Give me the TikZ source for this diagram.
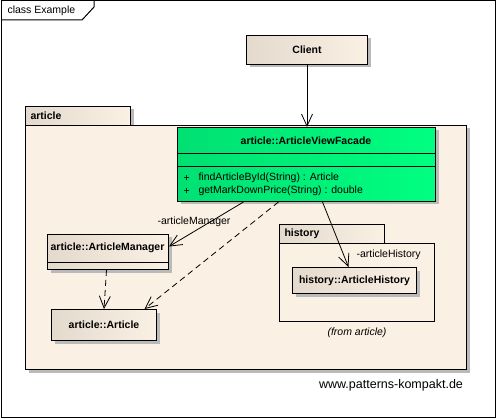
\documentclass[tikz,border=0pt]{standalone}
\usepackage{fontspec}
\setmainfont{Liberation Sans}
\usetikzlibrary{arrows.meta,shadows}
\definecolor{cream}{HTML}{FAF0E3}
\definecolor{taupe}{HTML}{E3DACD}
\definecolor{facadelight}{HTML}{00FF80}
\definecolor{facadedark}{HTML}{00E072}
\tikzset{
  boxshadow/.style={drop shadow={shadow xshift=3pt,shadow yshift=-3pt,fill=black!27,opacity=1}},
  cls/.style={draw,line width=1pt,left color=taupe,right color=cream,boxshadow,
    anchor=north west,inner sep=0pt,font=\fontsize{10.5}{12}\selectfont\bfseries},
  pkgtab/.style={draw,line width=1pt,left color=taupe,right color=cream,
    anchor=north west,minimum width=105pt,minimum height=19pt,inner sep=0pt},
  pkgbody/.style={draw,line width=1pt,fill=cream,anchor=north west,inner sep=0pt},
  tipbarb/.style={-{Straight Barb[length=12pt,width=11pt]}},
  assoc/.style={tipbarb,line width=0.8pt},
  depend/.style={tipbarb,line width=0.8pt,dash pattern=on 6pt off 4pt}
}
\begin{document}
\begin{tikzpicture}[x=1pt,y=-1pt,font=\fontsize{10.5}{12}\selectfont]
  \useasboundingbox (0,0) rectangle (497,419);
  % frame
  \draw[line width=1pt] (1,1) rectangle (495,417);
  \draw[line width=1pt] (1,20) -- (82,20) -- (94,7) -- (94,1);
  \node[anchor=west] (frametitle) at (4,11) {class Example};

  % package article
  \node[pkgtab,boxshadow] (articletab) at (25,106) {};
  \node[anchor=west,font=\fontsize{10.5}{12}\selectfont\bfseries] (articlelabel) at (27,116) {article};
  \node[pkgbody,boxshadow,minimum width=441pt,minimum height=244pt] (articlepkg) at (25,125) {};

  % package history
  \node[pkgtab] (historytab) at (279,224) {};
  \node[anchor=west,font=\fontsize{10.5}{12}\selectfont\bfseries] (historylabel) at (281,234) {history};
  \node[pkgbody,minimum width=155pt,minimum height=78pt] (historypkg) at (279,243) {};
  \node[font=\fontsize{10.5}{12}\selectfont\itshape] (fromarticle) at (357,333) {(from article)};

  % classes
  \node[cls,minimum width=121pt,minimum height=29pt] (client) at (246,35) {Client};

  \node[cls,left color=facadedark,right color=facadelight,minimum width=258pt,minimum height=74pt] (facade) at (177,127) {};
  \node[font=\fontsize{10.5}{12}\selectfont\bfseries] (facadename) at (306,141) {article::ArticleViewFacade};
  \draw[line width=1pt] (facade.west |- 0,154) -- (facade.east |- 0,154);
  \draw[line width=1pt] (facade.west |- 0,167) -- (facade.east |- 0,167);
  \node[anchor=west] (plusone) at (180,178) {+};
  \node[anchor=west] (findop) at (195,178) {findArticleById(String) : Article};
  \node[anchor=west] (plustwo) at (180,191) {+};
  \node[anchor=west] (priceop) at (195,191) {getMarkDownPrice(String) : double};

  \node[cls,minimum width=121pt,minimum height=35pt] (manager) at (47,234) {};
  \node[font=\fontsize{10.5}{12}\selectfont\bfseries] (managername) at (107.5,248) {article::ArticleManager};
  \draw[line width=1pt] (manager.west |- 0,262) -- (manager.east |- 0,262);

  \node[cls,minimum width=105pt,minimum height=31pt] (article) at (51,309) {article::Article};

  \node[cls,minimum width=124pt,minimum height=26pt] (history) at (292,267) {history::ArticleHistory};

  % connectors
  \draw[assoc] (client) -- (client |- facade.north);
  \draw[assoc] ([xshift=-63pt]facade.south) -- ([yshift=5.5pt]manager.east);
  \node (managerrole) at (194,222) {-articleManager};
  \draw[depend] ([xshift=-28pt]facade.south) -- ([xshift=40.5pt]article.north);
  \draw[depend] ([xshift=-1.5pt]manager.south) -- (article.north);
  \draw[assoc] ([xshift=16pt]facade.south) -- ([xshift=-6pt]history.north);
  \node[anchor=west] (historyrole) at (353,255) {-articleHistory};

  \node[font=\fontsize{12.5}{14}\selectfont] (website) at (391,385) {www.patterns-kompakt.de};
\end{tikzpicture}
\end{document}
